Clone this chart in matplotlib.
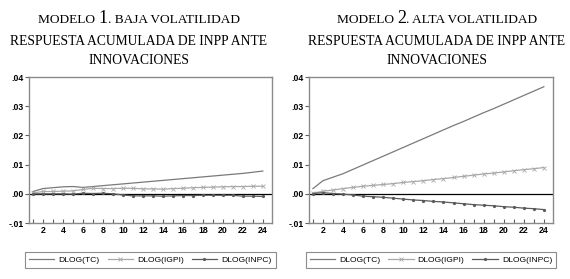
import numpy as np
import matplotlib
matplotlib.use('Agg')
import matplotlib.pyplot as plt
from matplotlib.offsetbox import TextArea, HPacker, AnchoredOffsetbox

# periods 1..24
periods = np.arange(1, 25)

# Modelo 1 - baja volatilidad
tc_1 = [0.0008, 0.0018, 0.0021, 0.0024, 0.0025, 0.0022, 0.0025, 0.0028, 0.0031, 0.0034,
        0.0037, 0.0040, 0.0043, 0.0046, 0.0049, 0.0052, 0.0055, 0.0058, 0.0061, 0.0064,
        0.0067, 0.0070, 0.0074, 0.0078]
igpi_1 = [0.0003, 0.0008, 0.0008, 0.0009, 0.0010, 0.0015, 0.0019, 0.0018, 0.0018, 0.0019,
          0.0019, 0.0017, 0.0017, 0.0016, 0.0018, 0.0019, 0.0021, 0.0022, 0.0023, 0.0024,
          0.0025, 0.0025, 0.0026, 0.0026]
inpc_1 = [0.0000, 0.0000, 0.0000, 0.0000, -0.0001, 0.0002, 0.0001, 0.0002, 0.0000, -0.0004,
          -0.0007, -0.0007, -0.0007, -0.0008, -0.0007, -0.0006, -0.0006, -0.0005, -0.0005, -0.0005,
          -0.0005, -0.0008, -0.0008, -0.0009]

# Modelo 2 - alta volatilidad
tc_2 = [0.0018, 0.0045, 0.0057, 0.0069, 0.0084, 0.0099, 0.0114, 0.0129, 0.0144, 0.0159,
        0.0174, 0.0189, 0.0204, 0.0219, 0.0234, 0.0248, 0.0263, 0.0278, 0.0292, 0.0307,
        0.0322, 0.0337, 0.0352, 0.0367]
igpi_2 = [0.0002, 0.0009, 0.0013, 0.0018, 0.0022, 0.0026, 0.0029, 0.0032, 0.0035, 0.0039,
          0.0042, 0.0045, 0.0049, 0.0052, 0.0056, 0.0060, 0.0064, 0.0068, 0.0071, 0.0075,
          0.0079, 0.0083, 0.0086, 0.0090]
inpc_2 = [0.0001, 0.0004, 0.0001, -0.0001, -0.0004, -0.0008, -0.0010, -0.0012, -0.0015, -0.0018,
          -0.0021, -0.0023, -0.0026, -0.0028, -0.0031, -0.0034, -0.0037, -0.0039, -0.0041, -0.0044,
          -0.0046, -0.0049, -0.0051, -0.0054]

labels = ['DLOG(TC)', 'DLOG(IGPI)', 'DLOG(INPC)']
yticks = [-0.01, 0.0, 0.01, 0.02, 0.03, 0.04]
ytick_labels = ['-.01', '.00', '.01', '.02', '.03', '.04']

fig = plt.figure(figsize=(5.7, 2.79), dpi=100)
ax1 = fig.add_axes([0.0509, 0.2007, 0.426, 0.523])
ax2 = fig.add_axes([0.542, 0.2007, 0.428, 0.523])


def draw(ax, tc, igpi, inpc, num, rest, tx):
    ax.axhline(0, color='black', lw=0.9, zorder=1)
    l1, = ax.plot(periods, tc, color='#7a7a7a', lw=0.9, label=labels[0])
    l2, = ax.plot(periods, igpi, color='#a8a8a8', lw=0.9, marker='x', ms=2.5, mew=0.6,
                  label=labels[1])
    l3, = ax.plot(periods, inpc, color='#5a5a5a', lw=0.9, marker='o', ms=1.3,
                  label=labels[2])
    ax.set_xlim(0.6, 24.9)
    ax.set_ylim(-0.01, 0.04)
    ax.set_yticks(yticks)
    ax.set_yticklabels(ytick_labels)
    ax.set_xticks(np.arange(2, 25, 2))
    ax.set_xticks(periods, minor=True)
    ax.tick_params(axis='x', which='both', direction='in', length=3, width=0.8,
                   color='#606060', pad=2)
    ax.tick_params(axis='y', direction='out', length=3, width=0.8, color='#606060', pad=1)
    for lab in ax.get_xticklabels() + ax.get_yticklabels():
        lab.set_fontfamily('Liberation Sans')
        lab.set_fontweight('bold')
        lab.set_fontsize(6.3)
    for sp in ax.spines.values():
        sp.set_color('#8a8a8a')
        sp.set_linewidth(1.0)

    leg = ax.legend(handles=[l1, l2, l3], loc='upper center', bbox_to_anchor=(0.5, -0.17),
                    ncol=3, frameon=True, fancybox=False, handlelength=3.0,
                    columnspacing=0.9, handletextpad=0.5, borderpad=0.45,
                    prop={'family': 'Liberation Sans', 'size': 6.1})
    leg.get_frame().set_edgecolor('#707070')
    leg.get_frame().set_linewidth(0.8)

    # three line title, serif, with a bigger model number
    small = dict(family='Liberation Serif', size=9.6, color='black')
    big = dict(family='Liberation Serif', size=13, color='black')
    row1 = HPacker(children=[TextArea('MODELO ', textprops=small),
                             TextArea(num, textprops=big),
                             TextArea(rest, textprops=small)],
                   align='baseline', pad=0, sep=0)
    box = AnchoredOffsetbox(loc='lower center', child=row1, pad=0, frameon=False,
                            bbox_to_anchor=(tx, 1.34), bbox_transform=ax.transAxes,
                            borderpad=0)
    ax.add_artist(box)
    body = dict(family='Liberation Serif', size=9.8, color='black')
    ax.text(tx, 1.219, 'RESPUESTA ACUMULADA DE INPP ANTE', transform=ax.transAxes,
            ha='center', va='baseline', **body)
    ax.text(tx, 1.089, 'INNOVACIONES', transform=ax.transAxes,
            ha='center', va='baseline', **body)


draw(ax1, tc_1, igpi_1, inpc_1, '1', '. BAJA VOLATILIDAD', 0.452)
draw(ax2, tc_2, igpi_2, inpc_2, '2', '. ALTA VOLATILIDAD', 0.524)

fig.savefig('out.png', dpi=100)
